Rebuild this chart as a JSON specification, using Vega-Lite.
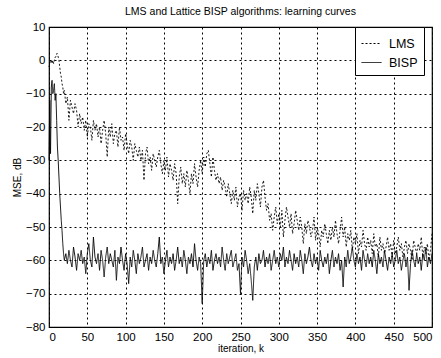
{
  "$schema": "https://vega.github.io/schema/vega-lite/v6.json",
  "width": 383,
  "height": 300,
  "autosize": {"type": "none"},
  "padding": {"left": 49, "top": 27, "right": 9, "bottom": 31},
  "background": "white",
  "title": {"text": "LMS and Lattice BISP algorithms: learning curves", "font": "Liberation Sans", "fontSize": 10.5, "fontWeight": "normal", "color": "black", "offset": 4},
  "config": {
    "view": {"stroke": "black", "strokeWidth": 1.2},
    "axis": {"labelFont": "Liberation Sans", "labelFontSize": 11.5, "labelColor": "black", "titleFont": "Liberation Sans", "titleFontSize": 10, "titleFontWeight": "normal", "titleColor": "black", "grid": true, "gridColor": "black", "gridDash": [2, 3], "gridOpacity": 1, "gridWidth": 1, "domain": false, "ticks": false}
  },
  "data": {"values": [
    {"k":0,"LMS":-2,"BISP":-30},{"k":1,"LMS":-1,"BISP":-12},{"k":2,"LMS":0,"BISP":-28},{"k":3,"LMS":0,"BISP":-8},{"k":4,"LMS":-1,"BISP":-6},
    {"k":5,"LMS":0,"BISP":-10},{"k":6,"LMS":-1,"BISP":-9},{"k":7,"LMS":0,"BISP":-7},{"k":8,"LMS":1,"BISP":-12},{"k":9,"LMS":1,"BISP":-10},
    {"k":10,"LMS":2,"BISP":-18},{"k":11,"LMS":2,"BISP":-26},{"k":12,"LMS":1,"BISP":-30},{"k":13,"LMS":0,"BISP":-35},{"k":14,"LMS":-2,"BISP":-40},
    {"k":15,"LMS":-4,"BISP":-44},{"k":16,"LMS":-5,"BISP":-48},{"k":17,"LMS":-7,"BISP":-51},{"k":18,"LMS":-8,"BISP":-55},{"k":19,"LMS":-10,"BISP":-58},
    {"k":20,"LMS":-9,"BISP":-60},
    {"k":22,"LMS":-13,"BISP":-58},{"k":24,"LMS":-11,"BISP":-61},{"k":26,"LMS":-18,"BISP":-57},{"k":28,"LMS":-12,"BISP":-60},{"k":30,"LMS":-14,"BISP":-62},
    {"k":32,"LMS":-16,"BISP":-56},{"k":34,"LMS":-13,"BISP":-59},{"k":36,"LMS":-15,"BISP":-63},{"k":38,"LMS":-20,"BISP":-58},{"k":40,"LMS":-16,"BISP":-60},
    {"k":42,"LMS":-19,"BISP":-57},{"k":44,"LMS":-17,"BISP":-61},{"k":46,"LMS":-21,"BISP":-59},{"k":48,"LMS":-18,"BISP":-64},{"k":50,"LMS":-23,"BISP":-58},
    {"k":52,"LMS":-19,"BISP":-55},{"k":54,"LMS":-20,"BISP":-60},{"k":56,"LMS":-24,"BISP":-62},{"k":58,"LMS":-18,"BISP":-53},{"k":60,"LMS":-21,"BISP":-59},
    {"k":62,"LMS":-19,"BISP":-61},{"k":64,"LMS":-23,"BISP":-58},{"k":66,"LMS":-20,"BISP":-63},{"k":68,"LMS":-25,"BISP":-57},{"k":70,"LMS":-21,"BISP":-60},
    {"k":72,"LMS":-18,"BISP":-65},{"k":74,"LMS":-22,"BISP":-59},{"k":76,"LMS":-29,"BISP":-56},{"k":78,"LMS":-20,"BISP":-61},{"k":80,"LMS":-23,"BISP":-58},
    {"k":82,"LMS":-19,"BISP":-60},{"k":84,"LMS":-25,"BISP":-62},{"k":86,"LMS":-22,"BISP":-57},{"k":88,"LMS":-21,"BISP":-66},{"k":90,"LMS":-26,"BISP":-59},
    {"k":92,"LMS":-20,"BISP":-61},{"k":94,"LMS":-24,"BISP":-56},{"k":96,"LMS":-23,"BISP":-60},{"k":98,"LMS":-27,"BISP":-63},{"k":100,"LMS":-22,"BISP":-58},
    {"k":102,"LMS":-25,"BISP":-61},{"k":104,"LMS":-28,"BISP":-67},{"k":106,"LMS":-24,"BISP":-59},{"k":108,"LMS":-26,"BISP":-62},{"k":110,"LMS":-30,"BISP":-57},
    {"k":112,"LMS":-25,"BISP":-60},{"k":114,"LMS":-27,"BISP":-64},{"k":116,"LMS":-29,"BISP":-58},{"k":118,"LMS":-26,"BISP":-61},{"k":120,"LMS":-30,"BISP":-59},
    {"k":122,"LMS":-27,"BISP":-56},{"k":124,"LMS":-36,"BISP":-62},{"k":126,"LMS":-28,"BISP":-60},{"k":128,"LMS":-26,"BISP":-58},{"k":130,"LMS":-31,"BISP":-63},
    {"k":132,"LMS":-29,"BISP":-59},{"k":134,"LMS":-33,"BISP":-61},{"k":136,"LMS":-28,"BISP":-57},{"k":138,"LMS":-30,"BISP":-60},{"k":140,"LMS":-32,"BISP":-62},
    {"k":142,"LMS":-29,"BISP":-58},{"k":144,"LMS":-27,"BISP":-53},{"k":146,"LMS":-31,"BISP":-61},{"k":148,"LMS":-34,"BISP":-59},{"k":150,"LMS":-30,"BISP":-64},
    {"k":152,"LMS":-33,"BISP":-60},{"k":154,"LMS":-29,"BISP":-57},{"k":156,"LMS":-35,"BISP":-62},{"k":158,"LMS":-31,"BISP":-59},{"k":160,"LMS":-33,"BISP":-61},
    {"k":162,"LMS":-36,"BISP":-58},{"k":164,"LMS":-31,"BISP":-63},{"k":166,"LMS":-34,"BISP":-60},{"k":168,"LMS":-43,"BISP":-56},{"k":170,"LMS":-35,"BISP":-61},
    {"k":172,"LMS":-32,"BISP":-59},{"k":174,"LMS":-37,"BISP":-62},{"k":176,"LMS":-34,"BISP":-57},{"k":178,"LMS":-38,"BISP":-60},{"k":180,"LMS":-33,"BISP":-64},
    {"k":182,"LMS":-36,"BISP":-59},{"k":184,"LMS":-40,"BISP":-61},{"k":186,"LMS":-34,"BISP":-58},{"k":188,"LMS":-37,"BISP":-62},{"k":190,"LMS":-31,"BISP":-55},
    {"k":192,"LMS":-35,"BISP":-60},{"k":194,"LMS":-38,"BISP":-63},{"k":196,"LMS":-33,"BISP":-59},{"k":198,"LMS":-30,"BISP":-61},{"k":200,"LMS":-34,"BISP":-73},
    {"k":202,"LMS":-29,"BISP":-60},{"k":204,"LMS":-32,"BISP":-58},{"k":206,"LMS":-28,"BISP":-62},{"k":208,"LMS":-27,"BISP":-59},{"k":210,"LMS":-31,"BISP":-61},
    {"k":212,"LMS":-35,"BISP":-57},{"k":214,"LMS":-29,"BISP":-63},{"k":216,"LMS":-33,"BISP":-60},{"k":218,"LMS":-36,"BISP":-58},{"k":220,"LMS":-34,"BISP":-61},
    {"k":222,"LMS":-37,"BISP":-59},{"k":224,"LMS":-35,"BISP":-62},{"k":226,"LMS":-39,"BISP":-56},{"k":228,"LMS":-36,"BISP":-60},{"k":230,"LMS":-38,"BISP":-63},
    {"k":232,"LMS":-41,"BISP":-58},{"k":234,"LMS":-37,"BISP":-61},{"k":236,"LMS":-40,"BISP":-59},{"k":238,"LMS":-43,"BISP":-57},{"k":240,"LMS":-39,"BISP":-62},
    {"k":242,"LMS":-42,"BISP":-60},{"k":244,"LMS":-38,"BISP":-58},{"k":246,"LMS":-44,"BISP":-63},{"k":248,"LMS":-41,"BISP":-61},{"k":250,"LMS":-40,"BISP":-70},
    {"k":252,"LMS":-45,"BISP":-59},{"k":254,"LMS":-39,"BISP":-62},{"k":256,"LMS":-42,"BISP":-57},{"k":258,"LMS":-40,"BISP":-60},{"k":260,"LMS":-43,"BISP":-64},
    {"k":262,"LMS":-38,"BISP":-61},{"k":264,"LMS":-41,"BISP":-66},{"k":266,"LMS":-46,"BISP":-72},{"k":268,"LMS":-39,"BISP":-62},{"k":270,"LMS":-42,"BISP":-59},
    {"k":272,"LMS":-37,"BISP":-63},{"k":274,"LMS":-40,"BISP":-58},{"k":276,"LMS":-44,"BISP":-61},{"k":278,"LMS":-38,"BISP":-60},{"k":280,"LMS":-36,"BISP":-57},
    {"k":282,"LMS":-41,"BISP":-62},{"k":284,"LMS":-45,"BISP":-59},{"k":286,"LMS":-43,"BISP":-61},{"k":288,"LMS":-48,"BISP":-58},{"k":290,"LMS":-46,"BISP":-63},
    {"k":292,"LMS":-51,"BISP":-60},{"k":294,"LMS":-47,"BISP":-57},{"k":296,"LMS":-44,"BISP":-61},{"k":298,"LMS":-49,"BISP":-59},{"k":300,"LMS":-46,"BISP":-62},
    {"k":302,"LMS":-50,"BISP":-58},{"k":304,"LMS":-45,"BISP":-60},{"k":306,"LMS":-53,"BISP":-56},{"k":308,"LMS":-48,"BISP":-62},{"k":310,"LMS":-44,"BISP":-59},
    {"k":312,"LMS":-47,"BISP":-61},{"k":314,"LMS":-50,"BISP":-57},{"k":316,"LMS":-46,"BISP":-60},{"k":318,"LMS":-52,"BISP":-63},{"k":320,"LMS":-49,"BISP":-58},
    {"k":322,"LMS":-45,"BISP":-61},{"k":324,"LMS":-48,"BISP":-59},{"k":326,"LMS":-51,"BISP":-62},{"k":328,"LMS":-47,"BISP":-57},{"k":330,"LMS":-50,"BISP":-60},
    {"k":332,"LMS":-55,"BISP":-64},{"k":334,"LMS":-49,"BISP":-58},{"k":336,"LMS":-52,"BISP":-61},{"k":338,"LMS":-48,"BISP":-59},{"k":340,"LMS":-50,"BISP":-56},
    {"k":342,"LMS":-53,"BISP":-60},{"k":344,"LMS":-51,"BISP":-62},{"k":346,"LMS":-47,"BISP":-58},{"k":348,"LMS":-54,"BISP":-61},{"k":350,"LMS":-50,"BISP":-59},
    {"k":352,"LMS":-52,"BISP":-63},{"k":354,"LMS":-56,"BISP":-57},{"k":356,"LMS":-51,"BISP":-60},{"k":358,"LMS":-53,"BISP":-62},{"k":360,"LMS":-49,"BISP":-59},
    {"k":362,"LMS":-52,"BISP":-61},{"k":364,"LMS":-55,"BISP":-58},{"k":366,"LMS":-51,"BISP":-64},{"k":368,"LMS":-54,"BISP":-60},{"k":370,"LMS":-50,"BISP":-57},
    {"k":372,"LMS":-53,"BISP":-62},{"k":374,"LMS":-48,"BISP":-59},{"k":376,"LMS":-52,"BISP":-61},{"k":378,"LMS":-55,"BISP":-58},{"k":380,"LMS":-51,"BISP":-63},
    {"k":382,"LMS":-47,"BISP":-60},{"k":384,"LMS":-53,"BISP":-68},{"k":386,"LMS":-50,"BISP":-59},{"k":388,"LMS":-56,"BISP":-62},{"k":390,"LMS":-52,"BISP":-57},
    {"k":392,"LMS":-54,"BISP":-61},{"k":394,"LMS":-51,"BISP":-59},{"k":396,"LMS":-57,"BISP":-56},{"k":398,"LMS":-53,"BISP":-60},{"k":400,"LMS":-55,"BISP":-62},
    {"k":402,"LMS":-52,"BISP":-58},{"k":404,"LMS":-58,"BISP":-61},{"k":406,"LMS":-54,"BISP":-59},{"k":408,"LMS":-56,"BISP":-63},{"k":410,"LMS":-51,"BISP":-57},
    {"k":412,"LMS":-55,"BISP":-60},{"k":414,"LMS":-57,"BISP":-62},{"k":416,"LMS":-53,"BISP":-58},{"k":418,"LMS":-56,"BISP":-61},{"k":420,"LMS":-54,"BISP":-59},
    {"k":422,"LMS":-58,"BISP":-62},{"k":424,"LMS":-52,"BISP":-57},{"k":426,"LMS":-56,"BISP":-60},{"k":428,"LMS":-55,"BISP":-64},{"k":430,"LMS":-59,"BISP":-58},
    {"k":432,"LMS":-53,"BISP":-61},{"k":434,"LMS":-57,"BISP":-59},{"k":436,"LMS":-55,"BISP":-62},{"k":438,"LMS":-58,"BISP":-57},{"k":440,"LMS":-56,"BISP":-60},
    {"k":442,"LMS":-53,"BISP":-63},{"k":444,"LMS":-57,"BISP":-59},{"k":446,"LMS":-55,"BISP":-61},{"k":448,"LMS":-59,"BISP":-58},{"k":450,"LMS":-54,"BISP":-62},
    {"k":452,"LMS":-58,"BISP":-60},{"k":454,"LMS":-56,"BISP":-57},{"k":456,"LMS":-53,"BISP":-61},{"k":458,"LMS":-57,"BISP":-59},{"k":460,"LMS":-55,"BISP":-63},
    {"k":462,"LMS":-59,"BISP":-60},{"k":464,"LMS":-56,"BISP":-58},{"k":466,"LMS":-54,"BISP":-62},{"k":468,"LMS":-58,"BISP":-59},{"k":470,"LMS":-55,"BISP":-69},
    {"k":472,"LMS":-57,"BISP":-61},{"k":474,"LMS":-60,"BISP":-57},{"k":476,"LMS":-54,"BISP":-60},{"k":478,"LMS":-56,"BISP":-62},{"k":480,"LMS":-58,"BISP":-58},
    {"k":482,"LMS":-55,"BISP":-61},{"k":484,"LMS":-57,"BISP":-59},{"k":486,"LMS":-53,"BISP":-63},{"k":488,"LMS":-59,"BISP":-58},{"k":490,"LMS":-56,"BISP":-60},
    {"k":492,"LMS":-58,"BISP":-56},{"k":494,"LMS":-55,"BISP":-62},{"k":496,"LMS":-60,"BISP":-59},{"k":498,"LMS":-57,"BISP":-61},{"k":500,"LMS":-52,"BISP":-58}
  ]},
  "transform": [{"fold": ["LMS", "BISP"], "as": ["s", "v"]}],
  "mark": {"type": "line", "color": "black", "strokeWidth": 0.9},
  "encoding": {
    "x": {"field": "k", "type": "quantitative", "scale": {"domain": [0, 500], "nice": false}, "axis": {"values": [0,50,100,150,200,250,300,350,400,450,500], "title": "iteration, k", "labelPadding": 4, "titlePadding": 1}},
    "y": {"field": "v", "type": "quantitative", "scale": {"domain": [-80, 10], "nice": false}, "axis": {"values": [-80,-70,-60,-50,-40,-30,-20,-10,0,10], "title": "MSE, dB", "labelPadding": 4, "titlePadding": 3}},
    "detail": {"field": "s"},
    "strokeDash": {"field": "s", "type": "nominal", "scale": {"domain": ["LMS", "BISP"], "range": [[2, 2], [1, 0]]},
      "legend": {"title": null, "orient": "none", "legendX": 306, "legendY": 0, "padding": 6, "strokeColor": "black", "fillColor": "white", "labelFont": "Liberation Sans", "labelFontSize": 12.5, "labelColor": "black", "labelOffset": 7, "symbolType": "stroke", "symbolSize": 400, "symbolStrokeColor": "black", "symbolStrokeWidth": 1, "rowPadding": 2}}
  }
}
